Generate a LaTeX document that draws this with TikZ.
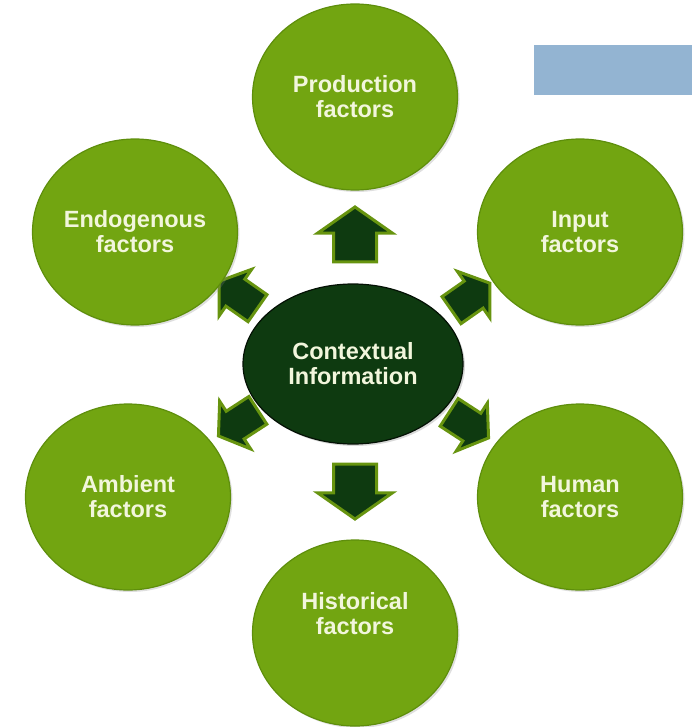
\documentclass[tikz,border=0pt]{standalone}
\usepackage{fontspec}
\setmainfont{Liberation Sans}
\usepackage{tikz}
\usetikzlibrary{shapes.geometric}
\usetikzlibrary{shapes.arrows}
\usetikzlibrary{shadows}
\pgfdeclarelayer{edgelayer}
\pgfdeclarelayer{nodelayer}
\pgfsetlayers{edgelayer,nodelayer,main}
\definecolor{leaf}{HTML}{72A511}
\definecolor{leafedge}{HTML}{5E8E0C}
\definecolor{forest}{HTML}{0E3A10}
\definecolor{pale}{HTML}{F2F6DC}
\definecolor{sky}{HTML}{93B4D2}
\tikzstyle{factor}=[ellipse,minimum width=205pt,minimum height=186pt,inner sep=0pt,fill=leaf,draw=leafedge,line width=1.2pt,drop shadow={opacity=0.25,shadow xshift=2pt,shadow yshift=-2pt},text=pale,font=\fontsize{23.5}{25}\selectfont\bfseries,align=center]
\tikzstyle{hub}=[ellipse,minimum width=220pt,minimum height=160pt,inner sep=0pt,fill=forest,draw=black!70!forest,line width=1.2pt,drop shadow={opacity=0.3,shadow xshift=2pt,shadow yshift=-2pt},text=pale,font=\fontsize{23.5}{25}\selectfont\bfseries,align=center]
\tikzstyle{push}=[single arrow,minimum height=55pt,inner xsep=0pt,inner ysep=20pt,single arrow head extend=16pt,single arrow tip angle=110,fill=forest,draw=leaf!90!black,line width=3pt]
\tikzstyle{smallpush}=[push,minimum height=47pt,inner ysep=15pt,single arrow head extend=12pt]

\begin{document}
\begin{tikzpicture}[x=1pt,y=-1pt]
	\useasboundingbox (0,0) rectangle (692,727);
	\node [fill=sky,minimum width=158pt,minimum height=50pt,inner sep=0pt] (13) at (613,70) {};
	\begin{pgfonlayer}{nodelayer}
		\node [style=hub] (0) at (353,364) {Contextual\\Information};
		\node [style=factor] (1) at (355,97) {Production\\factors};
		\node [style=factor] (2) at (580,232) {Input\\factors};
		\node [style=factor] (3) at (580,497) {Human\\factors};
		\node [style=factor] (4) at (355,633) {Historical\\factors\\[0.6em]};
		\node [style=factor] (5) at (128,497) {Ambient\\factors};
		\node [style=factor] (6) at (135,232) {Endogenous\\factors};
	\end{pgfonlayer}
	\begin{pgfonlayer}{edgelayer}
		\node [style=push, rotate=90] (7) at (355,242) {};
		\node [style=smallpush, rotate=35] (8) at (466,300) {};
		\node [style=smallpush, rotate=-33] (9) at (464,422) {};
		\node [style=push, rotate=-90] (10) at (355,484) {};
		\node [style=smallpush, rotate=-147] (11) at (243,420) {};
		\node [style=smallpush, rotate=145] (12) at (243,298) {};
	\end{pgfonlayer}
\end{tikzpicture}
\end{document}
